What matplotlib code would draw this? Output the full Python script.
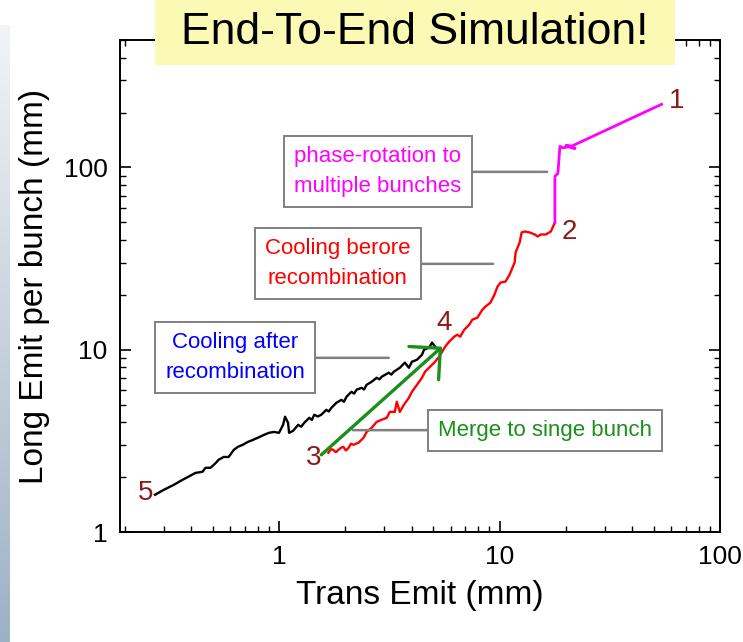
import numpy as np
import matplotlib
matplotlib.use("Agg")
import matplotlib.pyplot as plt
from matplotlib.patches import Rectangle
from matplotlib.colors import LinearSegmentedColormap

plt.rcParams['font.family'] = ['Liberation Sans', 'DejaVu Sans']

# cooling after recombination (5 -> 4)
black_x = [0.274, 0.299, 0.332, 0.364, 0.388, 0.418, 0.450, 0.464, 0.489, 0.516,
           0.532, 0.561, 0.591, 0.623, 0.650, 0.685, 0.722, 0.761, 0.802, 0.854,
           0.900, 0.949, 1.000, 1.043, 1.065, 1.099, 1.111, 1.158, 1.221, 1.260,
           1.301, 1.371, 1.410, 1.445, 1.500, 1.555, 1.639, 1.680, 1.728, 1.821,
           1.919, 1.970, 2.023, 2.132, 2.190, 2.247, 2.368, 2.430, 2.496, 2.631,
           2.773, 2.850, 2.923, 3.146, 3.230, 3.315, 3.531, 3.722, 3.882, 4.006,
           4.223, 4.451, 4.545, 4.790, 4.944, 5.103]
black_y = [1.60, 1.70, 1.81, 1.93, 2.01, 2.11, 2.14, 2.25, 2.25, 2.39,
           2.49, 2.58, 2.58, 2.82, 2.93, 3.01, 3.12, 3.20, 3.29, 3.41,
           3.50, 3.54, 3.50, 3.87, 4.29, 3.97, 3.50, 3.59, 3.87, 3.78,
           3.97, 4.23, 4.12, 4.40, 4.30, 4.40, 4.68, 4.58, 4.80, 5.12,
           5.31, 5.18, 5.52, 5.88, 5.74, 6.03, 6.18, 6.05, 6.42, 6.67,
           7.02, 6.88, 7.11, 7.48, 7.30, 7.57, 7.96, 8.49, 7.96, 8.59,
           8.81, 9.39, 10.0, 10.26, 10.93, 10.39]

# cooling before recombination (3 -> 2)
red_x = [1.674, 1.720, 1.764, 1.810, 1.859, 1.910, 1.960, 2.010, 2.066, 2.120,
         2.177, 2.295, 2.419, 2.496, 2.631, 2.773, 2.923, 3.081, 3.179, 3.350,
         3.421, 3.531, 3.683, 3.882, 4.006, 4.223, 4.451, 4.594, 4.842, 5.103,
         5.321, 5.492, 5.668, 5.911, 6.231, 6.431, 6.636, 6.921, 7.295, 7.529,
         7.935, 8.364, 8.633, 9.097, 9.488, 9.792, 10.11, 10.65, 11.11, 11.71,
         11.83, 12.34, 12.60, 13.01, 13.71, 14.45, 14.91, 15.39, 16.22, 17.10,
         17.83]
red_y = [2.72, 2.85, 2.82, 2.74, 2.82, 2.90, 2.93, 2.80, 2.89, 3.05,
         3.01, 3.09, 3.29, 3.54, 3.73, 4.02, 4.13, 4.23, 4.56, 4.56,
         5.18, 4.56, 4.99, 5.45, 5.88, 6.42, 7.02, 7.57, 8.07, 8.59,
         9.16, 9.75, 10.39, 11.07, 11.79, 12.09, 11.79, 12.88, 13.72, 14.62,
         14.99, 16.59, 17.23, 18.13, 20.06, 22.20, 23.35, 23.65, 25.84, 30.08,
         34.13, 38.74, 43.97, 44.53, 43.97, 42.86, 41.79, 42.86, 42.86, 44.53,
         49.89]

# phase rotation (2 -> 1)
mag_x = [17.83, 17.83, 18.40, 18.79, 19.4, 20.7, 22.0, 20.0, 21.3, 54.3]
mag_y = [49.9, 89.3, 92.7, 130.5, 128.0, 130.0, 127.0, 132.0, 131.0, 222.0]

# merge arrow (3 -> 4)
merge_start = (1.555, 2.65)
merge_end = (5.49, 10.39)

point_labels = ['1', '2', '3', '4', '5']
point_x = [63.6, 20.65, 1.43, 5.61, 0.247]
point_y = [230.0, 44.5, 2.55, 14.1, 1.64]

fig = plt.figure(figsize=(7.43, 6.42), dpi=100)
ax = fig.add_axes([120/743, 110/642, 600/743, 492/642])

ax.set_xscale('log')
ax.set_yscale('log')
ax.set_xlim(0.19, 100)
ax.set_ylim(1, 500)

ax.plot(black_x, black_y, color='black', lw=1.7, zorder=3)
ax.plot(red_x, red_y, color='#ff0000', lw=1.7, zorder=3)
ax.plot(mag_x, mag_y, color='#ff00ff', lw=2.0, zorder=3)
ax.plot([red_x[-1], mag_x[0]], [red_y[-1], mag_y[0]], color='#ff00ff', lw=2.0, zorder=3)

ax.annotate('', xy=merge_end, xytext=merge_start,
            arrowprops=dict(arrowstyle='->,head_length=0.8,head_width=0.8',
                            color='#1a8f1a', lw=2.4, mutation_scale=20,
                            shrinkA=0, shrinkB=0), zorder=4)

for lab, px, py in zip(point_labels, point_x, point_y):
    ax.text(px, py, lab, color='#8b1a1a', fontsize=20, ha='center', va='center')

# callout boxes with grey leader lines
callouts = [
    ('phase-rotation to\nmultiple bunches', '#ff00ff', (0.43, 0.732), (0.712, 0.732)),
    ('Cooling berore\nrecombination', '#ff0000', (0.363, 0.545), (0.622, 0.545)),
    ('Cooling after\nrecombination', '#0000ff', (0.192, 0.354), (0.448, 0.354)),
    ('Merge to singe bunch', '#1a8f1a', (0.708, 0.207), (0.388, 0.207)),
]
for txt, col, tpos, lpos in callouts:
    ax.annotate(txt, xy=lpos, xycoords='axes fraction', xytext=tpos,
                textcoords='axes fraction', color=col, fontsize=16,
                ha='center', va='center', linespacing=1.55,
                bbox=dict(boxstyle='square,pad=0.45', fc='white', ec='#808080', lw=1.4),
                arrowprops=dict(arrowstyle='-', color='#808080', lw=1.8,
                                shrinkA=0, shrinkB=0), zorder=5)

ax.tick_params(which='both', direction='in', top=True, right=True)
ax.tick_params(which='major', length=8, width=1.2, labelsize=19, pad=9)
ax.tick_params(which='minor', length=4.5, width=1.0)
ax.xaxis.set_major_formatter(matplotlib.ticker.FuncFormatter(lambda v, p: '%g' % v))
ax.yaxis.set_major_formatter(matplotlib.ticker.FuncFormatter(lambda v, p: '%g' % v))
ax.yaxis.set_minor_formatter(matplotlib.ticker.NullFormatter())
ax.xaxis.set_minor_formatter(matplotlib.ticker.NullFormatter())
for s in ax.spines.values():
    s.set_linewidth(1.4)

ax.set_xlabel('Trans Emit (mm)', fontsize=24, labelpad=8)
ax.set_ylabel('Long Emit per bunch (mm)', fontsize=24, labelpad=10)

# slide decoration on the left edge
strip = fig.add_axes([0, 0, 10/743, 617/642])
strip.imshow(np.linspace(0, 1, 256).reshape(-1, 1), aspect='auto',
             cmap=LinearSegmentedColormap.from_list('s', ['#f2f4f6', '#9db1c5']))
strip.axis('off')

# title banner
fig.add_artist(Rectangle((155/743, 577/642), 520/743, 65/642,
                         transform=fig.transFigure, fc='#fafab4', ec='none', zorder=6))
fig.text(415/743, 609/642, 'End-To-End Simulation!', fontsize=32,
         ha='center', va='center', zorder=7)

fig.savefig('out.png', dpi=100)
